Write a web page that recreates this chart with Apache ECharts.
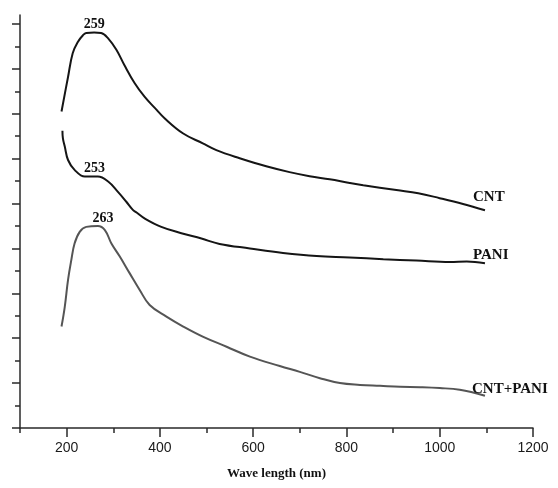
<!DOCTYPE html>
<html style="height: 100%;width: 100%">
<head>
    <meta charset="UTF-8">
    <script type="text/javascript" src="https://cdn.jsdelivr.net/npm/echarts@6/dist/echarts.min.js"></script>
    <title>UV-Vis spectra</title>
    <style>
        body { margin: 0; background: #ffffff; }
    </style>
</head>
<body>
<div id="main" style="width: 558px;height:488px;"></div>

<script type="text/javascript">
    // tick positions
    var xMajor = [200, 400, 600, 800, 1000, 1200];
    var xMinor = [100, 300, 500, 700, 900, 1100];
    var yMajor = [0, 1, 2, 3, 4, 5, 6, 7, 8, 9];
    var yMinor = [0.5, 1.5, 2.5, 3.5, 4.5, 5.5, 6.5, 7.5, 8.5];

    // CNT (top curve)
    var cntX = [189, 203, 213, 224, 235, 242, 259, 274, 289, 307, 324, 346, 367, 389, 410, 450, 492, 521, 571, 628, 678, 721, 764, 807, 836, 907, 954, 1000, 1050, 1097];
    var cntY = [7.05, 7.82, 8.35, 8.60, 8.75, 8.80, 8.81, 8.80, 8.68, 8.42, 8.08, 7.68, 7.38, 7.13, 6.90, 6.56, 6.34, 6.19, 6.01, 5.83, 5.70, 5.61, 5.54, 5.46, 5.41, 5.30, 5.23, 5.12, 4.99, 4.85];

    // PANI (middle curve)
    var paniX = [191, 192, 196, 203, 217, 239, 253, 267, 289, 310, 328, 342, 350, 367, 403, 446, 489, 528, 593, 664, 736, 807, 879, 950, 1022, 1058, 1097];
    var paniY = [6.62, 6.45, 6.27, 5.97, 5.75, 5.60, 5.60, 5.60, 5.49, 5.26, 5.04, 4.86, 4.80, 4.67, 4.48, 4.34, 4.22, 4.10, 4.00, 3.90, 3.83, 3.80, 3.76, 3.73, 3.70, 3.71, 3.67];

    // CNT+PANI (bottom curve)
    var cpX = [189, 196, 203, 210, 217, 228, 242, 267, 282, 296, 314, 335, 357, 378, 414, 450, 493, 543, 593, 657, 700, 743, 786, 829, 872, 915, 958, 1000, 1043, 1097];
    var cpY = [2.26, 2.70, 3.30, 3.74, 4.11, 4.37, 4.48, 4.50, 4.41, 4.11, 3.82, 3.45, 3.07, 2.74, 2.48, 2.26, 2.03, 1.81, 1.59, 1.38, 1.25, 1.11, 1.00, 0.96, 0.94, 0.92, 0.91, 0.89, 0.85, 0.72];

    var seriesNames = ['CNT', 'PANI', 'CNT+PANI'];
    var peakText = ['259', '253', '263'];
    var peakX = [259, 260, 278];
    var peakY = [8.81, 5.60, 4.50];

    // styles
    var lineColors = ['#151515', '#151515', '#555555'];
    var endOffsets = [[-12, -6], [-12, -1], [-13, 1]];

    function pairs(xs, ys) {
        var out = [];
        for (var i = 0; i < xs.length; i++) {
            out.push([xs[i], ys[i]]);
        }
        return out;
    }

    var serif = 'Liberation Serif';
    var allData = [pairs(cntX, cntY), pairs(paniX, paniY), pairs(cpX, cpY)];

    var series = [];
    for (var s = 0; s < allData.length; s++) {
        var d = allData[s];
        series.push({
            name: seriesNames[s],
            type: 'line',
            xAxisIndex: 0,
            yAxisIndex: 0,
            data: d,
            smooth: 0.4,
            showSymbol: false,
            lineStyle: {color: lineColors[s], width: 2},
            markPoint: {
                symbol: 'circle',
                symbolSize: 0,
                itemStyle: {color: 'transparent'},
                label: {
                    position: 'top',
                    distance: 0,
                    color: '#111',
                    fontFamily: serif,
                    fontWeight: 'bold'
                },
                data: [
                    {coord: [peakX[s], peakY[s]], label: {formatter: peakText[s], fontSize: 14, offset: [0, -1]}},
                    {coord: d[d.length - 1], label: {formatter: seriesNames[s], fontSize: 15, align: 'left', offset: endOffsets[s]}}
                ]
            }
        });
    }

    var myChart = echarts.init(document.getElementById('main'));

    var option = {
        animation: false,
        backgroundColor: '#ffffff',
        grid: {left: 20, right: 25, top: 15, bottom: 60},
        xAxis: [{
            type: 'value',
            min: 100,
            max: 1200,
            position: 'bottom',
            splitLine: {show: false},
            axisLine: {show: true, lineStyle: {color: '#2a2a2a', width: 1.5}},
            axisTick: {show: true, length: 9, customValues: xMajor, lineStyle: {color: '#2a2a2a', width: 1.5}},
            axisLabel: {
                customValues: xMajor,
                formatter: function (v) { return String(v); },
                color: '#1a1a1a',
                fontFamily: 'Liberation Sans',
                fontSize: 14,
                margin: 13
            },
            name: 'Wave length (nm)',
            nameLocation: 'middle',
            nameGap: 39,
            nameTextStyle: {color: '#111', fontFamily: serif, fontWeight: 'bold', fontSize: 13}
        }, {
            type: 'value',
            min: 100,
            max: 1200,
            position: 'bottom',
            splitLine: {show: false},
            axisLine: {show: false},
            axisTick: {show: true, length: 5, customValues: xMinor, lineStyle: {color: '#2a2a2a', width: 1.5}},
            axisLabel: {show: false}
        }],
        yAxis: [{
            type: 'value',
            min: 0,
            max: 9.2,
            position: 'left',
            splitLine: {show: false},
            axisLine: {show: true, lineStyle: {color: '#2a2a2a', width: 1.5}},
            axisTick: {show: true, length: 8, customValues: yMajor, lineStyle: {color: '#2a2a2a', width: 1.5}},
            axisLabel: {show: false}
        }, {
            type: 'value',
            min: 0,
            max: 9.2,
            position: 'left',
            splitLine: {show: false},
            axisLine: {show: false},
            axisTick: {show: true, length: 5, customValues: yMinor, lineStyle: {color: '#2a2a2a', width: 1.5}},
            axisLabel: {show: false}
        }],
        series: series
    };

    myChart.setOption(option);
</script>
</body>
</html>
